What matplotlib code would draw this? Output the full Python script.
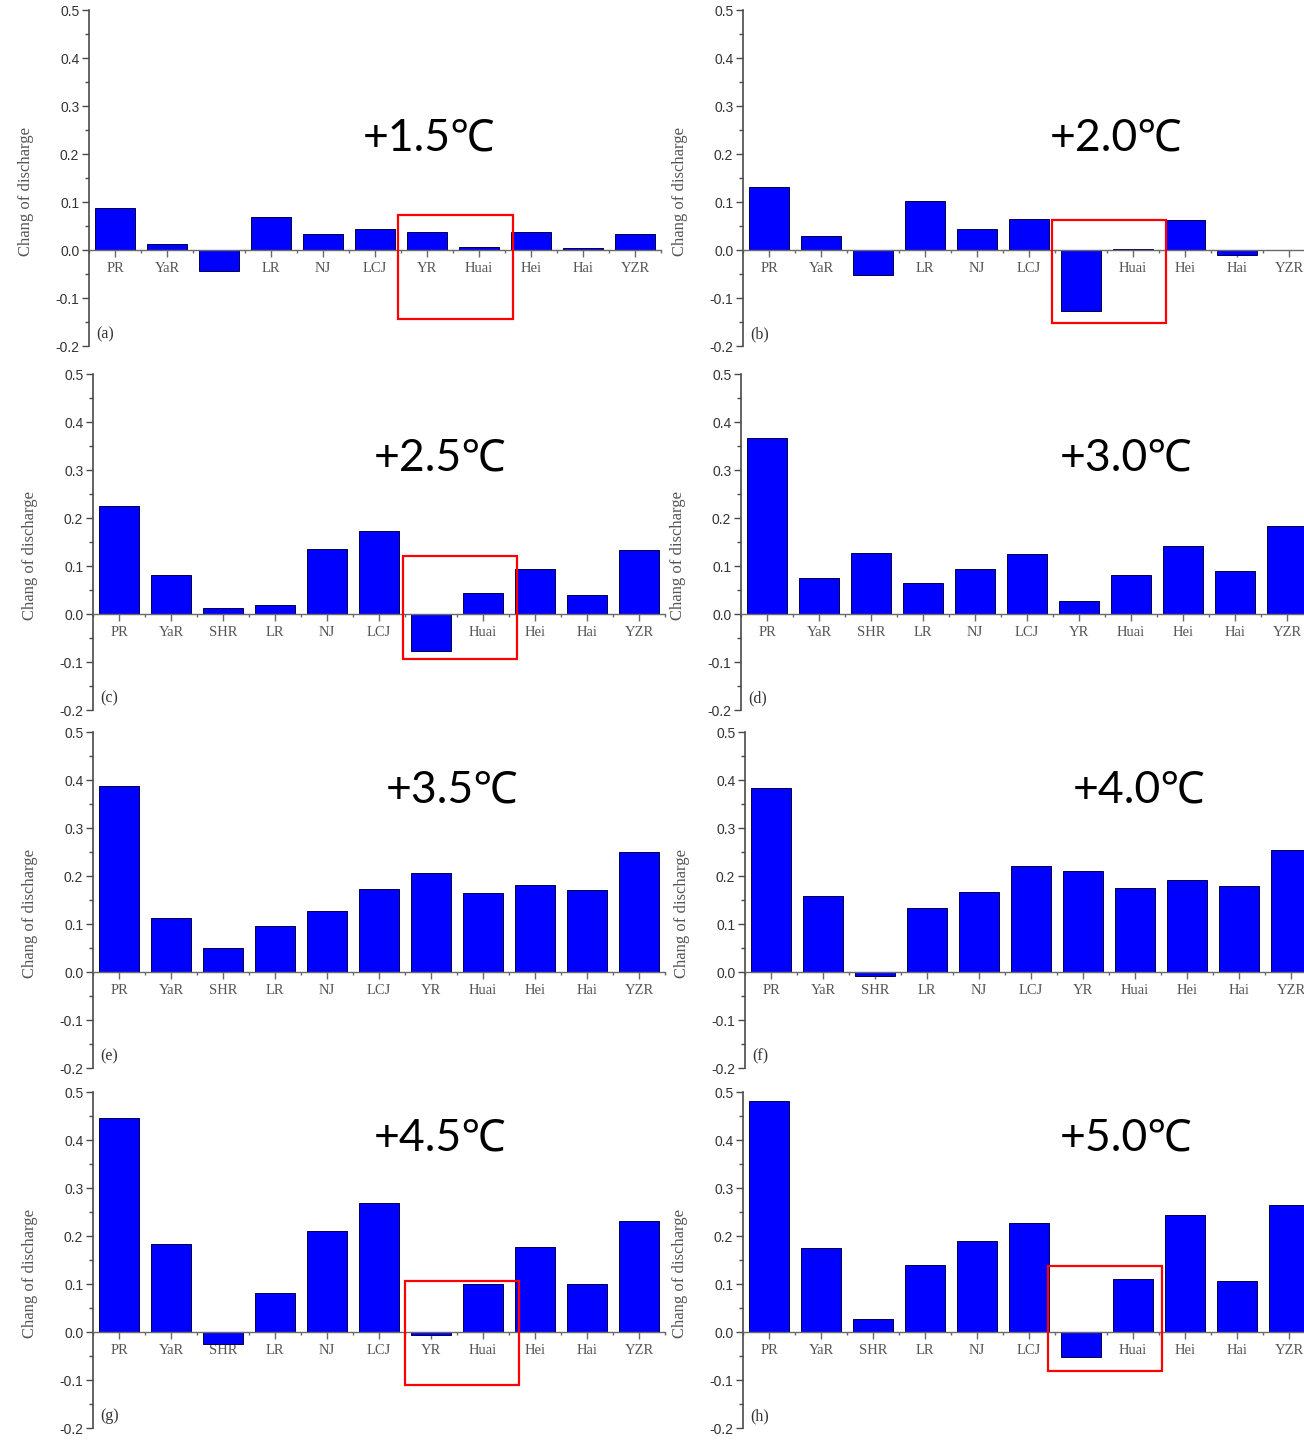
import matplotlib
matplotlib.use("Agg")
import matplotlib.pyplot as plt
from matplotlib.patches import Rectangle
from matplotlib.ticker import MultipleLocator

# river basins along the x axis
basins = ["PR", "YaR", "SHR", "LR", "NJ", "LCJ", "YR", "Huai", "Hei", "Hai", "YZR"]

# warming levels, one panel each
warming = ["+1.5℃", "+2.0℃", "+2.5℃", "+3.0℃", "+3.5℃", "+4.0℃", "+4.5℃", "+5.0℃"]
panel_tags = ["(a)", "(b)", "(c)", "(d)", "(e)", "(f)", "(g)", "(h)"]

# change of discharge per basin
dq_15 = [0.087, 0.013, -0.043, 0.068, 0.033, 0.044, 0.038, 0.006, 0.038, 0.004, 0.034]
dq_20 = [0.132, 0.029, -0.053, 0.102, 0.044, 0.064, -0.128, 0.002, 0.062, -0.010, 0.0]
dq_25 = [0.224, 0.082, 0.013, 0.018, 0.135, 0.172, -0.078, 0.044, 0.094, 0.039, 0.133]
dq_30 = [0.367, 0.074, 0.128, 0.064, 0.094, 0.124, 0.028, 0.081, 0.142, 0.089, 0.183]
dq_35 = [0.387, 0.112, 0.051, 0.096, 0.128, 0.172, 0.206, 0.165, 0.181, 0.170, 0.251]
dq_40 = [0.384, 0.158, -0.009, 0.133, 0.167, 0.221, 0.210, 0.176, 0.192, 0.180, 0.255]
dq_45 = [0.445, 0.183, -0.026, 0.082, 0.210, 0.268, -0.006, 0.101, 0.177, 0.101, 0.232]
dq_50 = [0.481, 0.174, 0.027, 0.140, 0.189, 0.228, -0.052, 0.110, 0.243, 0.106, 0.265]
series = [dq_15, dq_20, dq_25, dq_30, dq_35, dq_40, dq_45, dq_50]

# YR/Huai highlight boxes (x0, x1, y0, y1) in data units; None = no box
highlight = [
    (5.44, 7.65, -0.144, 0.073),
    (5.44, 7.63, -0.152, 0.0625),
    (5.46, 7.65, -0.094, 0.121),
    None,
    None,
    None,
    (5.50, 7.69, -0.110, 0.106),
    (5.37, 7.56, -0.081, 0.1375),
]

W, H = 1304, 1440
fig = plt.figure(figsize=(W / 100, H / 100), dpi=100)

# panel layout in pixels: left spine x, top (y=0.5) row position
lefts = [89, 743, 93, 741, 93, 745, 93, 743]
tops = [10, 10, 374, 374, 732, 732, 1092, 1092]
ax_w, ax_h = 572, 336
# temperature label anchor (axes fraction)
temp_pos = [(0.479, 0.619), (0.537, 0.619), (0.490, 0.750), (0.558, 0.750),
            (0.512, 0.827), (0.573, 0.827), (0.490, 0.863), (0.554, 0.863)]

axis_grey = "#4a4a4a"
label_grey = "#555555"

for i, vals in enumerate(series):
    ax = fig.add_axes([lefts[i] / W, 1 - (tops[i] + ax_h) / H, ax_w / W, ax_h / H])
    xs = list(range(len(basins)))
    ax.bar(xs, vals, width=0.77, color="#0000ff", edgecolor="#00004d",
           linewidth=0.7, zorder=2)

    ax.set_xlim(-0.5, 10.5)
    ax.set_ylim(-0.2, 0.5)

    for s in ["top", "right"]:
        ax.spines[s].set_visible(False)
    ax.spines["bottom"].set_position(("data", 0))
    ax.spines["bottom"].set_color("#6a6a6a")
    ax.spines["bottom"].set_linewidth(1.0)
    ax.spines["left"].set_color(axis_grey)
    ax.spines["left"].set_linewidth(1.2)

    ax.set_xticks(xs)
    ax.set_xticklabels(basins, family="Liberation Serif", fontsize=10.5,
                       color=label_grey)
    ax.xaxis.set_minor_locator(MultipleLocator(1.0, offset=0.5))
    ax.tick_params(axis="x", which="major", direction="out", length=5,
                   width=1.0, color="#6a6a6a", pad=4)
    ax.tick_params(axis="x", which="minor", direction="out", length=2.5,
                   width=1.0, color="#6a6a6a")

    ax.yaxis.set_minor_locator(MultipleLocator(0.05))
    ax.set_yticks([-0.2, -0.1, 0.0, 0.1, 0.2, 0.3, 0.4, 0.5])
    ax.set_yticklabels(["-0.2", "-0.1", "0.0", "0.1", "0.2", "0.3", "0.4", "0.5"],
                       family="Liberation Sans", fontsize=10, color="#333333")
    ax.tick_params(axis="y", which="major", direction="out", length=5,
                   width=1.0, color=axis_grey, pad=2)
    ax.tick_params(axis="y", which="minor", direction="out", length=3,
                   width=1.0, color=axis_grey)

    ax.set_ylabel("Chang of discharge", family="Liberation Serif",
                  fontsize=12, color=label_grey)
    ax.yaxis.set_label_coords(-0.096, 0.46)

    ax.text(0.012, 0.012, panel_tags[i], transform=ax.transAxes,
            family="Liberation Serif", fontsize=11.5, color="#333333",
            ha="left", va="bottom")

    tx, ty = temp_pos[i]
    ax.text(tx, ty, warming[i], transform=ax.transAxes,
            family=["Lato", "Noto Sans", "DejaVu Sans"], fontsize=32,
            color="black", ha="left", va="center")

    box = highlight[i]
    if box is not None:
        x0, x1, y0, y1 = box
        ax.add_patch(Rectangle((x0, y0), x1 - x0, y1 - y0, fill=False,
                               edgecolor="#ff0000", linewidth=1.6,
                               zorder=4, clip_on=False))

fig.savefig("out.png", dpi=100)
